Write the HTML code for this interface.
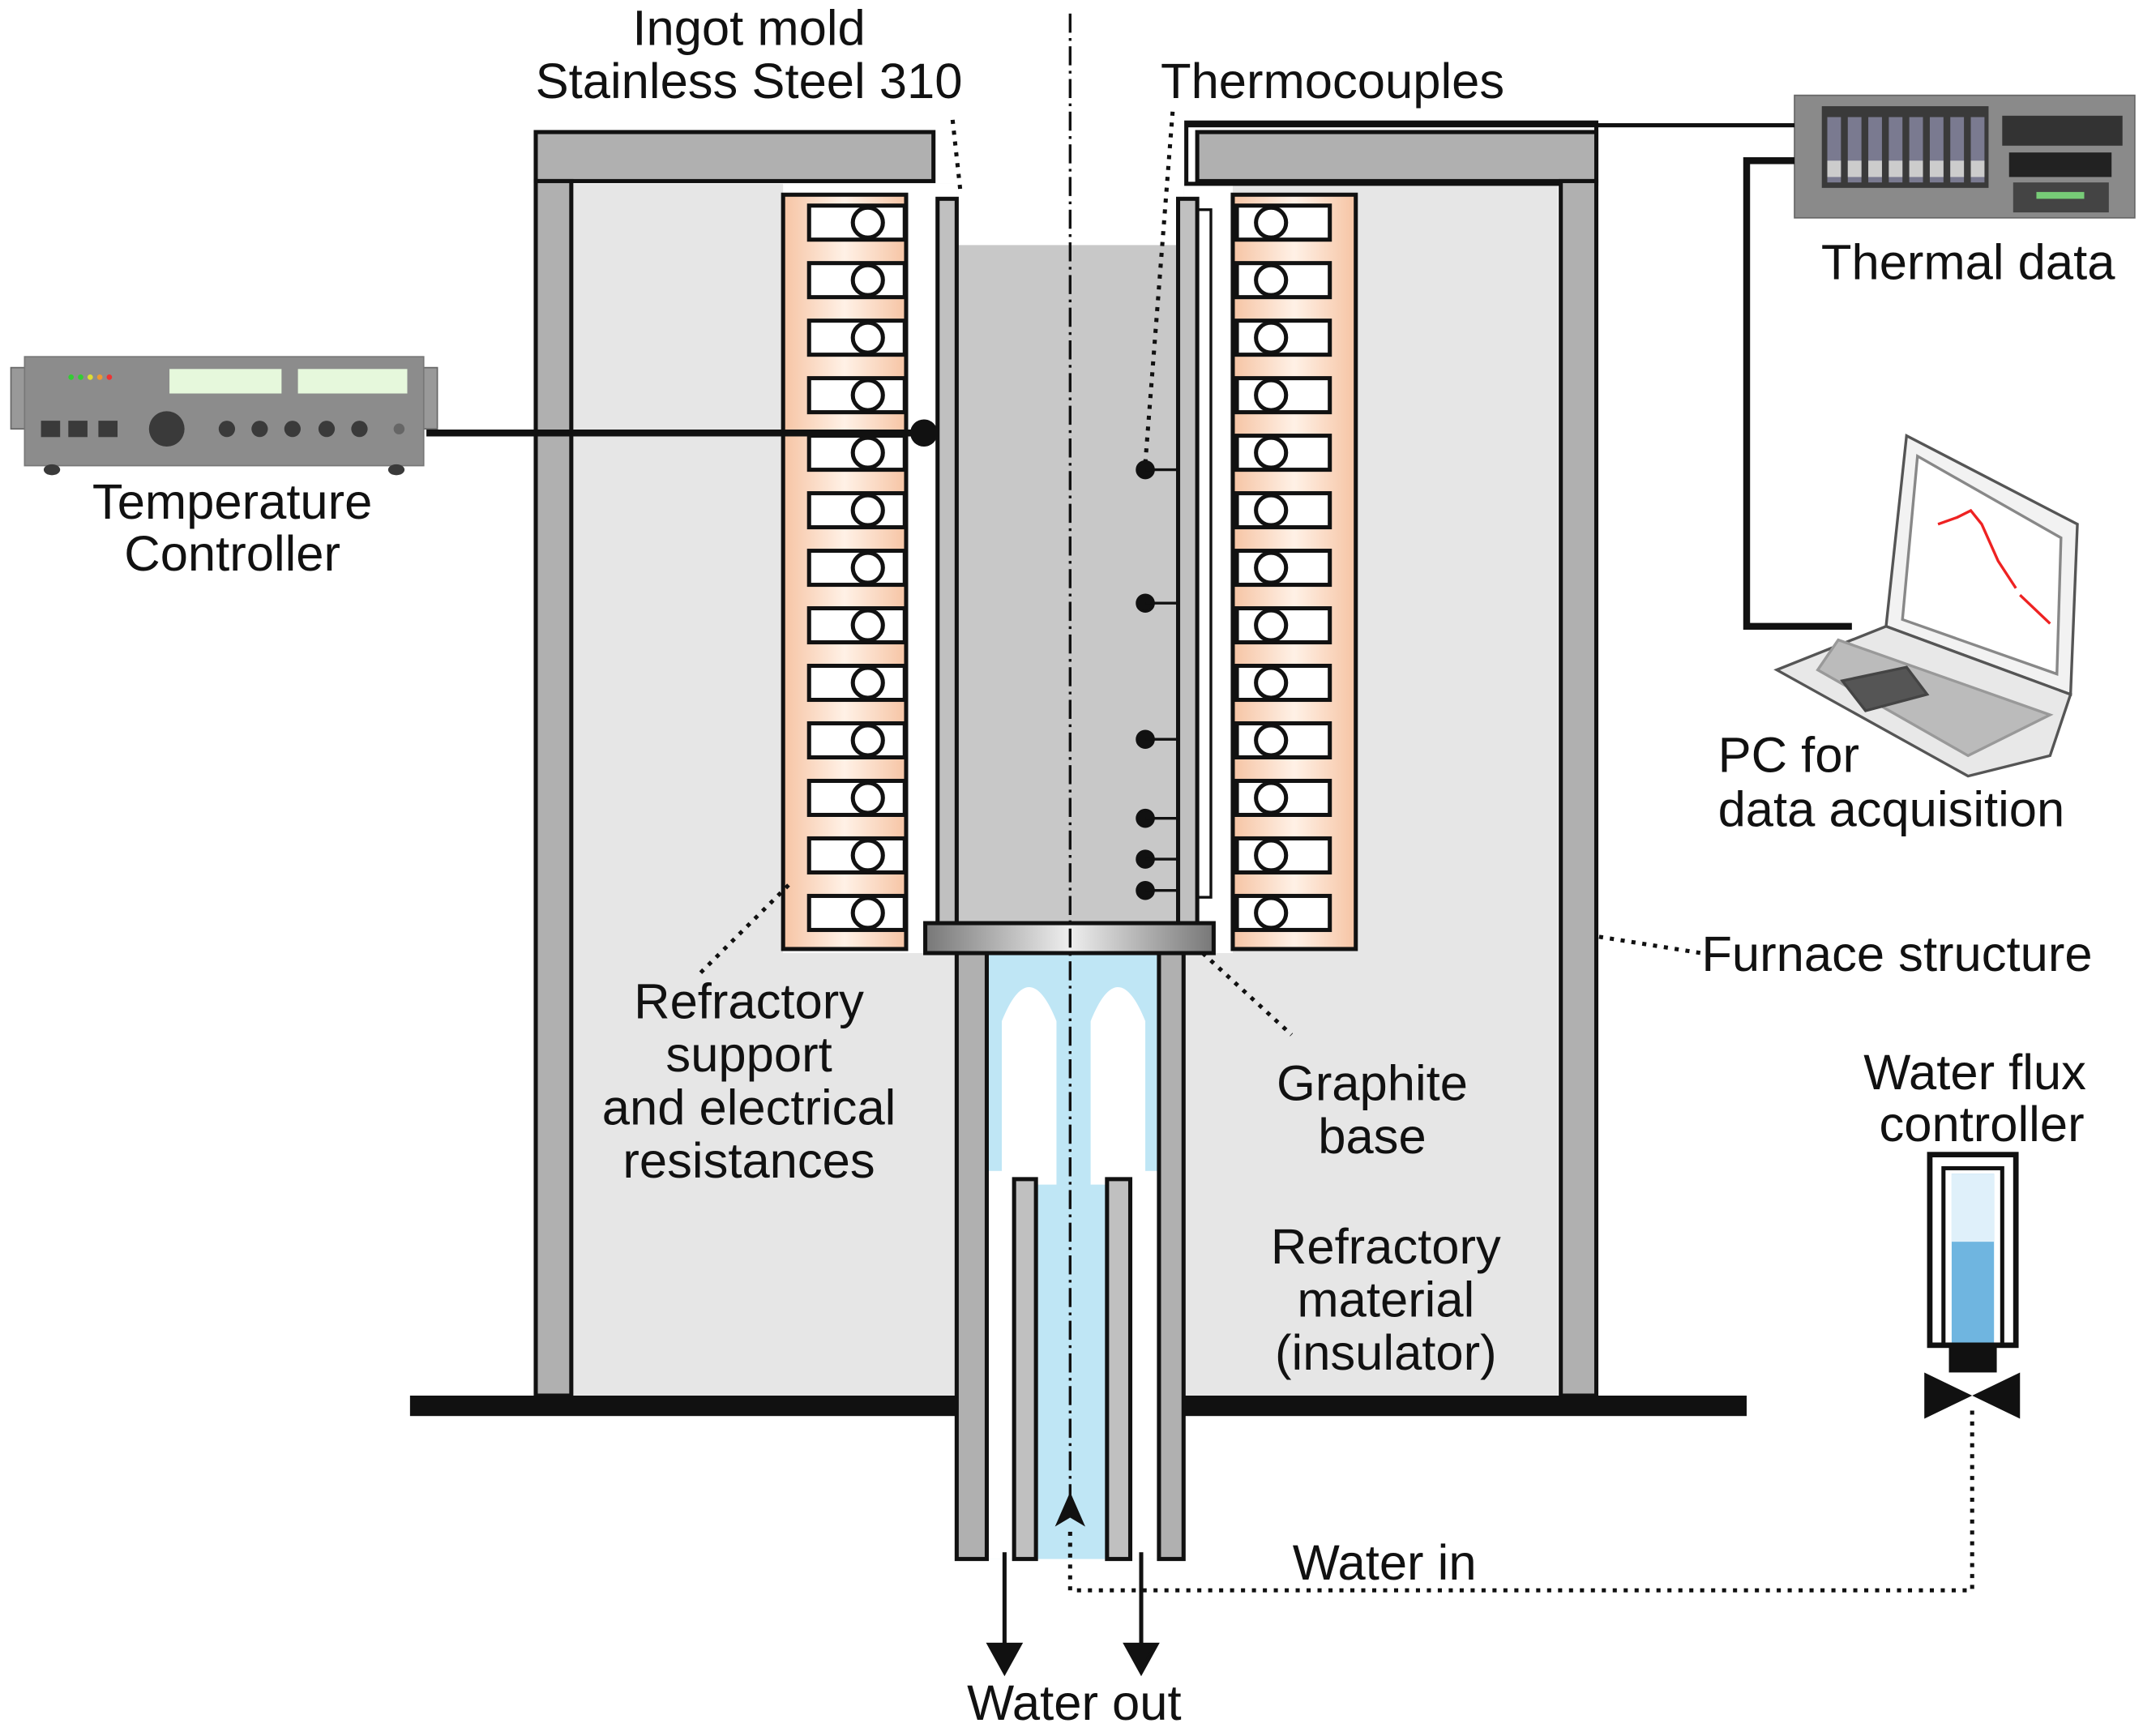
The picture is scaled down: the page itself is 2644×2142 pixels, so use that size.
<!DOCTYPE html>
<html><head><meta charset="utf-8"><style>html,body{margin:0;padding:0;background:#fff}svg{display:block}</style></head>
<body>
<svg xmlns="http://www.w3.org/2000/svg" width="2644" height="2142" viewBox="0 0 1568 1275" preserveAspectRatio="none" font-family="Liberation Sans, sans-serif" font-size="36.5" fill="#111">
<defs>
<linearGradient id="peach" x1="0" y1="0" x2="1" y2="0"><stop offset="0" stop-color="#f6c4a4"/><stop offset="0.5" stop-color="#fff1e6"/><stop offset="1" stop-color="#f6c4a4"/></linearGradient>
<linearGradient id="gb" x1="0" y1="0" x2="1" y2="0"><stop offset="0" stop-color="#777"/><stop offset="0.5" stop-color="#eee"/><stop offset="1" stop-color="#777"/></linearGradient>
</defs>
<rect x="418" y="135" width="282" height="890" fill="#e6e6e6"/>
<rect x="866" y="135" width="274" height="890" fill="#e6e6e6"/>
<rect x="573" y="135" width="127" height="565" fill="#fff"/>
<rect x="866" y="135" width="36" height="565" fill="#fff"/>
<rect x="392" y="97" width="291" height="36" fill="#b0b0b0" stroke="#111" stroke-width="3"/>
<rect x="392" y="133" width="26" height="892" fill="#b0b0b0" stroke="#111" stroke-width="3"/>
<rect x="868" y="90" width="300" height="45" fill="none" stroke="#111" stroke-width="3"/>
<rect x="876" y="97" width="292" height="36" fill="#b0b0b0" stroke="#111" stroke-width="3"/>
<rect x="1142" y="133" width="26" height="892" fill="#b0b0b0" stroke="#111" stroke-width="3"/>
<rect x="700" y="180" width="162" height="500" fill="#c8c8c8"/>
<rect x="686" y="146" width="14" height="535" fill="#c0c0c0" stroke="#111" stroke-width="3"/>
<rect x="862" y="146" width="14" height="535" fill="#c0c0c0" stroke="#111" stroke-width="3"/>
<rect x="876" y="154" width="10" height="505" fill="none" stroke="#111" stroke-width="2"/>
<g stroke="#111" stroke-width="3">
<rect x="573" y="143" width="90" height="554" fill="url(#peach)"/>
<rect x="902" y="143" width="90" height="554" fill="url(#peach)"/>
</g>
<g stroke="#111" stroke-width="3" fill="#fff">
<g id="s"><rect x="592" y="151" width="70" height="25"/><circle cx="635" cy="163.5" r="11"/></g>
<use href="#s" y="42.25"/><use href="#s" y="84.5"/><use href="#s" y="126.75"/><use href="#s" y="169"/><use href="#s" y="211.25"/><use href="#s" y="253.5"/><use href="#s" y="295.75"/><use href="#s" y="338"/><use href="#s" y="380.25"/><use href="#s" y="422.5"/><use href="#s" y="464.75"/><use href="#s" y="507"/>
<g id="t"><rect x="905" y="151" width="68" height="25"/><circle cx="930" cy="163.5" r="11"/></g>
<use href="#t" y="42.25"/><use href="#t" y="84.5"/><use href="#t" y="126.75"/><use href="#t" y="169"/><use href="#t" y="211.25"/><use href="#t" y="253.5"/><use href="#t" y="295.75"/><use href="#t" y="338"/><use href="#t" y="380.25"/><use href="#t" y="422.5"/><use href="#t" y="464.75"/><use href="#t" y="507"/>
</g>
<rect x="722" y="700" width="126" height="445" fill="#bfe6f5"/>
<path d="M733 870 V750 Q753 700 773 750 V870 Z M798 870 V750 Q818 700 838 750 V870 Z" fill="#fff"/>
<rect x="722" y="860" width="20" height="285" fill="#fff"/>
<rect x="827" y="860" width="21" height="285" fill="#fff"/>
<rect x="700" y="700" width="22" height="445" fill="#b0b0b0" stroke="#111" stroke-width="3"/>
<rect x="848" y="700" width="18" height="445" fill="#b0b0b0" stroke="#111" stroke-width="3"/>
<rect x="742" y="866" width="16" height="279" fill="#c0c0c0" stroke="#111" stroke-width="3"/>
<rect x="810" y="866" width="17" height="279" fill="#c0c0c0" stroke="#111" stroke-width="3"/>
<rect x="677" y="678" width="211" height="22" fill="url(#gb)" stroke="#111" stroke-width="3"/>
<rect x="300" y="1025" width="400" height="15" fill="#111"/>
<rect x="866" y="1025" width="412" height="15" fill="#111"/>
<line x1="783" y1="10" x2="783" y2="1100" stroke="#111" stroke-width="2" stroke-dasharray="14 4 2 4"/>
<g fill="#111" stroke="#111" stroke-width="2">
<circle cx="838" cy="345" r="6"/><line x1="838" y1="345" x2="862" y2="345"/>
<circle cx="838" cy="443" r="6"/><line x1="838" y1="443" x2="862" y2="443"/>
<circle cx="838" cy="543" r="6"/><line x1="838" y1="543" x2="862" y2="543"/>
<circle cx="838" cy="601" r="6"/><line x1="838" y1="601" x2="862" y2="601"/>
<circle cx="838" cy="631" r="6"/><line x1="838" y1="631" x2="862" y2="631"/>
<circle cx="838" cy="654" r="6"/><line x1="838" y1="654" x2="862" y2="654"/>
</g>
<g stroke="#111" stroke-width="3" stroke-dasharray="3 5" fill="none">
<line x1="697" y1="88" x2="703" y2="143"/>
<line x1="858" y1="82" x2="838" y2="340"/>
<line x1="577" y1="650" x2="512" y2="715"/>
<line x1="880" y1="700" x2="945" y2="760"/>
<line x1="1170" y1="688" x2="1245" y2="700"/>
<polyline points="783,1125 783,1168 1443,1168 1443,1035"/>
</g>
<g fill="#111" stroke="#111" stroke-width="3">
<line x1="735" y1="1140" x2="735" y2="1210"/><path d="M724 1208 L746 1208 L735 1228 Z"/>
<line x1="835" y1="1140" x2="835" y2="1210"/><path d="M824 1208 L846 1208 L835 1228 Z"/>
<path d="M773 1120 L783 1097 L793 1120 L783 1114 Z" stroke-width="1"/>
</g>
<rect x="8" y="270" width="12" height="45" fill="#999" stroke="#666"/>
<rect x="308" y="270" width="12" height="45" fill="#999" stroke="#666"/>
<rect x="18" y="262" width="292" height="80" fill="#8c8c8c" stroke="#777"/>
<rect x="124" y="271" width="82" height="18" fill="#e6f8dc"/><rect x="218" y="271" width="80" height="18" fill="#e6f8dc"/>
<g fill="#3a3a3a"><rect x="30" y="309" width="14" height="12"/><rect x="50" y="309" width="14" height="12"/><rect x="72" y="309" width="14" height="12"/><circle cx="122" cy="315" r="13"/><circle cx="166" cy="315" r="6"/><circle cx="190" cy="315" r="6"/><circle cx="214" cy="315" r="6"/><circle cx="239" cy="315" r="6"/><circle cx="263" cy="315" r="6"/><circle cx="292" cy="315" r="4" fill="#666"/><ellipse cx="38" cy="345" rx="6" ry="4"/><ellipse cx="290" cy="345" rx="6" ry="4"/></g>
<circle cx="52" cy="277" r="2" fill="#3c3"/><circle cx="59" cy="277" r="2" fill="#3c3"/><circle cx="66" cy="277" r="2" fill="#dd3"/><circle cx="73" cy="277" r="2" fill="#e93"/><circle cx="80" cy="277" r="2" fill="#e33"/>
<line x1="312" y1="318" x2="676" y2="318" stroke="#111" stroke-width="5"/>
<circle cx="676" cy="318" r="10" fill="#111"/>
<rect x="1313" y="70" width="249" height="90" fill="#8a8a8a" stroke="#666"/>
<rect x="1333" y="78" width="122" height="60" fill="#3a3a3a"/>
<g fill="#7a7a90"><rect x="1337" y="86" width="10" height="48"/><rect x="1352" y="86" width="10" height="48"/><rect x="1367" y="86" width="10" height="48"/><rect x="1382" y="86" width="10" height="48"/><rect x="1397" y="86" width="10" height="48"/><rect x="1412" y="86" width="10" height="48"/><rect x="1427" y="86" width="10" height="48"/><rect x="1442" y="86" width="10" height="48"/></g>
<g fill="#ccc"><rect x="1337" y="118" width="10" height="12"/><rect x="1352" y="118" width="10" height="12"/><rect x="1367" y="118" width="10" height="12"/><rect x="1382" y="118" width="10" height="12"/><rect x="1397" y="118" width="10" height="12"/><rect x="1412" y="118" width="10" height="12"/><rect x="1427" y="118" width="10" height="12"/><rect x="1442" y="118" width="10" height="12"/></g>
<rect x="1465" y="85" width="88" height="22" fill="#333"/><rect x="1470" y="112" width="75" height="18" fill="#222"/><rect x="1473" y="134" width="70" height="22" fill="#444"/><rect x="1490" y="141" width="35" height="5" fill="#7c7"/>
<polyline points="868,92 1313,92" stroke="#111" stroke-width="3" fill="none"/>
<polyline points="1313,118 1278,118 1278,460 1355,460" stroke="#111" stroke-width="5" fill="none"/>
<g stroke="#555" stroke-width="2" fill="#f2f2f2">
<path d="M1395 320 L1520 385 L1515 510 L1380 460 Z"/>
<path d="M1403 335 L1508 395 L1505 495 L1392 455 Z" fill="#fff" stroke="#888"/>
<path d="M1380 460 L1515 510 L1500 555 L1440 570 L1300 492 Z" fill="#e8e8e8"/>
<path d="M1345 470 L1500 525 L1440 555 L1330 492 Z" fill="#bbb" stroke="#999"/>
<path d="M1348 500 L1395 490 L1410 510 L1365 522 Z" fill="#555" stroke="#444"/>
</g>
<polyline points="1418,385 1432,380 1442,375 1450,385 1462,412 1475,432" stroke="#e22" stroke-width="2" fill="none"/>
<polyline points="1478,437 1500,458" stroke="#e22" stroke-width="2"/>
<rect x="1412" y="848" width="63" height="140" fill="#fff" stroke="#111" stroke-width="4"/>
<rect x="1422" y="858" width="43" height="130" fill="none" stroke="#111" stroke-width="3"/>
<rect x="1428" y="862" width="31" height="124" fill="#6fb5e0"/>
<rect x="1428" y="862" width="31" height="50" fill="#dff0fa"/>
<rect x="1426" y="988" width="35" height="20" fill="#111"/>
<path d="M1408 1008 L1443 1025 L1408 1042 Z M1478 1008 L1443 1025 L1478 1042 Z" fill="#111"/>
<g text-anchor="middle">
<text x="548" y="33">Ingot mold</text>
<text x="548" y="72">Stainless Steel 310</text>
<text x="975" y="72">Thermocouples</text>
<text x="1440" y="205">Thermal data</text>
<text x="170" y="381">Temperature</text>
<text x="170" y="419">Controller</text>
<text x="548" y="748">Refractory</text>
<text x="548" y="787">support</text>
<text x="548" y="826">and electrical</text>
<text x="548" y="865">resistances</text>
<text x="1004" y="808">Graphite</text>
<text x="1004" y="847">base</text>
<text x="1014" y="928">Refractory</text>
<text x="1014" y="967">material</text>
<text x="1014" y="1006">(insulator)</text>
<text x="1445" y="800">Water flux</text>
<text x="1450" y="838">controller</text>
<text x="1013" y="1160">Water in</text>
<text x="786" y="1263">Water out</text>
</g>
<text x="1257" y="567">PC for</text>
<text x="1257" y="607">data acquisition</text>
<text x="1245" y="713">Furnace structure</text>
</svg>
</body></html>
